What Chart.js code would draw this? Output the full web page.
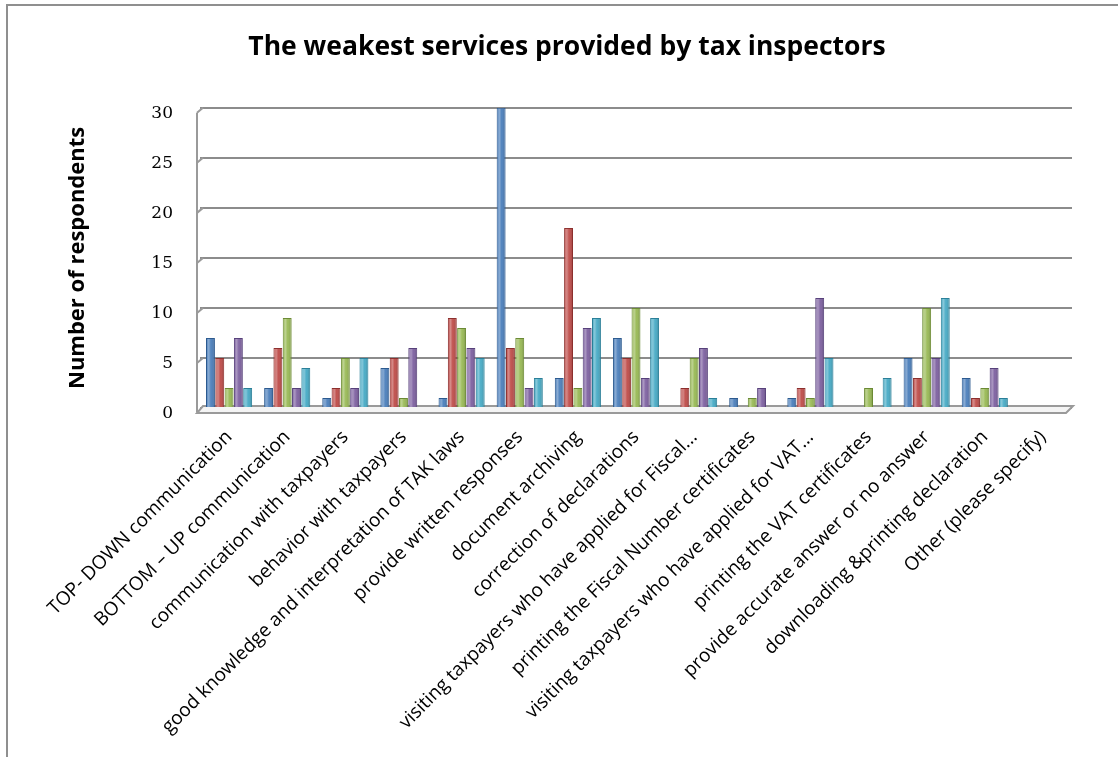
<!DOCTYPE html>
<html>
<head>
<meta charset="utf-8">
<title>The weakest services provided by tax inspectors</title>
<script src="https://cdn.jsdelivr.net/npm/chart.js@4"></script>
<style>
	html, body { margin: 0; padding: 0; background: #fff; }
	#wrap { width: 1118px; height: 757px; }
</style>
</head>
<body>
<div id="wrap"><canvas id="weak-services-chart" width="1118" height="757"></canvas></div>
<script>
// Survey answers per service, one array per respondent group
var categories = [
	'TOP- DOWN communication',
	'BOTTOM \u2013 UP communication',
	'communication with taxpayers',
	'behavior with taxpayers',
	'good knowledge and interpretation of TAK laws',
	'provide written responses',
	'document archiving',
	'correction of declarations',
	'visiting taxpayers who have applied for Fiscal...',
	'printing the Fiscal Number certificates',
	'visiting taxpayers who have applied for VAT...',
	'printing the VAT certificates',
	'provide accurate answer or no answer',
	'downloading &printing declaration',
	'Other (please specify)'
];
var seriesNames = ['Series 1', 'Series 2', 'Series 3', 'Series 4', 'Series 5'];
var blueValues = [7, 2, 1, 4, 1, 30, 3, 7, 0, 1, 1, 0, 5, 3, 0];
var redValues = [5, 6, 2, 5, 9, 6, 18, 5, 2, 0, 2, 0, 3, 1, 0];
var greenValues = [2, 9, 5, 1, 8, 7, 2, 10, 5, 1, 1, 2, 10, 2, 0];
var purpleValues = [7, 2, 2, 6, 6, 2, 8, 3, 6, 2, 11, 0, 5, 4, 0];
var cyanValues = [2, 4, 5, 0, 5, 3, 9, 9, 1, 0, 5, 3, 11, 1, 0];
var yTicks = [0, 5, 10, 15, 20, 25, 30];

var fills = ['#4a7ebb', '#be4b48', '#98b954', '#7d60a0', '#46aac5'];
var edges = ['#2c5a8f', '#8c2f2d', '#6b8a34', '#56407a', '#2a7f98'];

(function () {
	'use strict';

	/**
	 * Page frame, back wall and floor drawn around the plot
	 */
	var framePlugin = {
		id: 'frame',
		beforeDraw: function (chart) {
			var ctx = chart.ctx;
			ctx.save();
			ctx.fillStyle = '#fff';
			ctx.fillRect(0, 0, chart.width, chart.height);
			ctx.strokeStyle = '#8f8f8f';
			ctx.lineWidth = 2;
			ctx.beginPath();
			ctx.moveTo(7, chart.height);
			ctx.lineTo(7, 5);
			ctx.lineTo(chart.width, 5);
			ctx.stroke();
			ctx.restore();
		},
		beforeDatasetsDraw: function (chart) {
			var ctx = chart.ctx;
			var area = chart.chartArea;
			var y = chart.scales.y;
			ctx.save();
			ctx.strokeStyle = '#9a9a9a';
			ctx.lineWidth = 2;
			// left wall edge with small hooks into each grid line
			ctx.beginPath();
			ctx.moveTo(area.left - 3, y.getPixelForValue(0) + 4);
			ctx.lineTo(area.left - 3, y.getPixelForValue(30) + 5);
			ctx.stroke();
			yTicks.forEach(function (v) {
				var py = y.getPixelForValue(v);
				ctx.beginPath();
				ctx.moveTo(area.left - 3, py + 5);
				ctx.lineTo(area.left + 3, py);
				ctx.stroke();
			});
			// floor slab
			var fy = y.getPixelForValue(0);
			ctx.fillStyle = '#f4f4f4';
			ctx.beginPath();
			ctx.moveTo(area.left + 3, fy - 2);
			ctx.lineTo(area.right + 1, fy - 2);
			ctx.lineTo(area.right - 6, fy + 5);
			ctx.lineTo(area.left - 3, fy + 5);
			ctx.closePath();
			ctx.fill();
			ctx.stroke();
			ctx.restore();
		},
		afterDatasetsDraw: function (chart) {
			// cylinder shading on top of every bar
			var ctx = chart.ctx;
			ctx.save();
			chart.data.datasets.forEach(function (ds, di) {
				chart.getDatasetMeta(di).data.forEach(function (bar) {
					var h = bar.base - bar.y;
					if (h <= 0) {
						return;
					}
					var x0 = bar.x - bar.width / 2;
					var g = ctx.createLinearGradient(x0, 0, x0 + bar.width, 0);
					g.addColorStop(0, 'rgba(255,255,255,0)');
					g.addColorStop(0.3, 'rgba(255,255,255,0.35)');
					g.addColorStop(0.55, 'rgba(255,255,255,0.05)');
					g.addColorStop(1, 'rgba(0,0,0,0.22)');
					ctx.fillStyle = g;
					ctx.fillRect(x0 + 1, bar.y + 1, bar.width - 2, h - 1);
				});
			});
			ctx.restore();
		}
	};

	var series = [blueValues, redValues, greenValues, purpleValues, cyanValues];
	var datasets = series.map(function (values, i) {
		return {
			label: seriesNames[i],
			data: values,
			backgroundColor: fills[i],
			borderColor: edges[i],
			borderWidth: function (c) {
				return c.raw ? 1 : 0;
			},
			borderSkipped: 'start',
			categoryPercentage: 0.8,
			barPercentage: 0.96
		};
	});

	new Chart(document.getElementById('weak-services-chart'), {
		type: 'bar',
		data: {
			labels: categories,
			datasets: datasets
		},
		options: {
			responsive: false,
			animation: false,
			layout: {
				padding: { top: 0, right: 46, bottom: 0, left: 62 }
			},
			plugins: {
				legend: { display: false },
				tooltip: { enabled: false },
				title: {
					display: true,
					text: 'The weakest services provided by tax inspectors',
					color: '#000',
					font: { family: '"Open Sans", sans-serif', size: 26.5, weight: 'bold' },
					padding: { top: 32, bottom: 44 }
				}
			},
			scales: {
				x: {
					grid: { display: false },
					border: { display: false },
					ticks: {
						color: '#000',
						autoSkip: false,
						minRotation: 45,
						maxRotation: 45,
						padding: 10,
						font: { family: '"Open Sans", sans-serif', size: 19 }
					},
					afterFit: function (scale) {
						scale.height = 349;
					}
				},
				y: {
					min: 0,
					max: 30,
					grid: { color: '#8c8c8c', lineWidth: 2, drawTicks: false },
					border: { display: false },
					afterBuildTicks: function (scale) {
						scale.ticks = yTicks.map(function (v) {
							return { value: v };
						});
					},
					ticks: {
						color: '#000',
						padding: 27,
						labelOffset: 6,
						font: { family: '"DejaVu Serif", serif', size: 17 }
					},
					title: {
						display: true,
						text: 'Number of respondents',
						color: '#000',
						font: { family: '"Open Sans", sans-serif', size: 22, weight: 'bold' },
						padding: { top: 3, bottom: 0 }
					},
					afterFit: function (scale) {
						scale.width = 138;
					}
				}
			}
		},
		plugins: [framePlugin]
	});
})();
</script>
</body>
</html>
